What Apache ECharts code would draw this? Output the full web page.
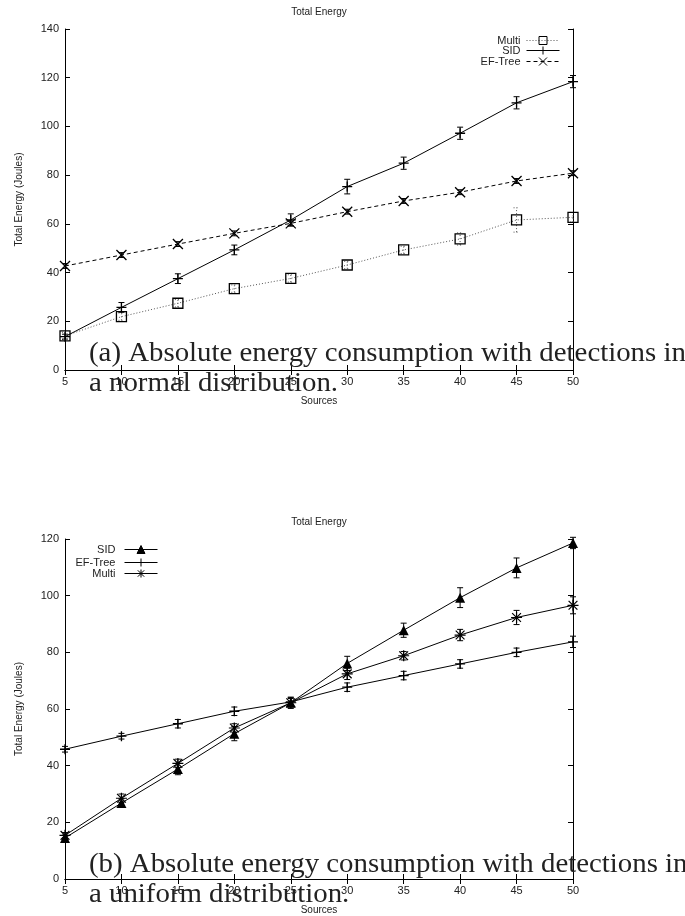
<!DOCTYPE html>
<html>
<head>
<meta charset="utf-8">
<script src="https://cdn.jsdelivr.net/npm/echarts@6/dist/echarts.min.js"></script>
<style>
html,body{margin:0;padding:0;background:#fff;}
#chart{width:685px;height:916px;}
</style>
</head>
<body>
<div id="chart"></div>
<script>
// ---- Data ----
const sources = [5, 10, 15, 20, 25, 30, 35, 40, 45, 50];
const xTicks = [5, 10, 15, 20, 25, 30, 35, 40, 45, 50];

// (a) normal distribution
const aMulti    = [14.0, 21.9, 27.4, 33.4, 37.6, 43.1, 49.3, 53.8, 61.6, 62.7];
const aMultiErr = [1.5, 1.5, 1.5, 1.5, 1.5, 1.5, 1.5, 2.5, 5.0, 2.0];
const aSID      = [13.7, 25.7, 37.5, 49.3, 61.6, 75.3, 84.9, 97.2, 109.7, 118.4];
const aSIDErr   = [1.0, 2.0, 2.0, 2.0, 2.5, 3.0, 2.5, 2.5, 2.5, 2.5];
const aEF       = [42.7, 47.2, 51.7, 56.1, 60.2, 65.0, 69.4, 73.0, 77.6, 80.8];
const aEFErr    = [1.0, 1.0, 1.0, 1.0, 1.0, 1.0, 1.0, 1.0, 1.0, 1.0];

// (b) uniform distribution
const bSID      = [14.5, 26.8, 38.8, 51.3, 62.2, 76.1, 87.8, 99.3, 109.8, 118.6];
const bSIDErr   = [1.0, 1.5, 2.0, 2.5, 2.0, 2.5, 2.5, 3.5, 3.5, 2.0];
const bEF       = [45.8, 50.4, 54.8, 59.2, 62.5, 67.7, 71.8, 75.9, 80.0, 83.7];
const bEFErr    = [1.0, 1.0, 1.5, 1.5, 1.5, 1.5, 1.5, 1.5, 1.5, 2.0];
const bMulti    = [15.4, 28.5, 40.8, 53.3, 62.2, 72.4, 78.8, 86.1, 92.3, 96.6];
const bMultiErr = [1.0, 1.5, 1.5, 1.5, 1.5, 2.0, 1.5, 2.0, 2.5, 3.0];

const titleText = 'Total Energy';
const xName = 'Sources';
const yName = 'Total Energy (Joules)';
const captionA = ['(a) Absolute energy consumption with detections in', 'a normal distribution.'];
const captionB = ['(b) Absolute energy consumption with detections in', 'a uniform distribution.'];

// ---- Helpers ----
const pairs = (vals) => sources.map((x, i) => [x, vals[i]]);
const errData = (vals, errs) => sources.map((x, i) => [x, vals[i] - errs[i], vals[i] + errs[i]]);

const SYM_PLUS = 'path://M5,0L5,10M0,5L10,5';
const SYM_X = 'path://M0,0L10,10M10,0L0,10';
const SYM_SQ = 'path://M0,0L10,0L10,10L0,10Z';
const SYM_AST = 'path://M5,0L5,10M0,5L10,5M1,1L9,9M9,1L1,9';

const sans = 'Liberation Sans, Arial, Helvetica, sans-serif';

function errSeries(name, vals, errs, xi, yi, color, dash) {
  return {
    type: 'custom', name: name, xAxisIndex: xi, yAxisIndex: yi, clip: false, z: 3,
    data: errData(vals, errs),
    silent: true,
    renderItem: function (params, api) {
      const x = api.value(0);
      const lo = api.coord([x, api.value(1)]);
      const hi = api.coord([x, api.value(2)]);
      const w = 3;
      const st = { stroke: color, lineWidth: 1, lineDash: dash || null };
      return {
        type: 'group',
        children: [
          { type: 'line', shape: { x1: lo[0], y1: lo[1], x2: hi[0], y2: hi[1] }, style: st },
          { type: 'line', shape: { x1: lo[0] - w, y1: lo[1], x2: lo[0] + w, y2: lo[1] }, style: st },
          { type: 'line', shape: { x1: hi[0] - w, y1: hi[1], x2: hi[0] + w, y2: hi[1] }, style: st }
        ]
      };
    }
  };
}

function lineSeries(name, vals, xi, yi, opts) {
  return {
    type: 'line', name: name, xAxisIndex: xi, yAxisIndex: yi, clip: false, z: 4,
    data: pairs(vals),
    symbol: opts.symbol, symbolSize: opts.size,
    showAllSymbol: true,
    lineStyle: { color: opts.lineColor, width: 1, type: opts.dash },
    itemStyle: { color: opts.fill, borderColor: '#000', borderWidth: opts.bw },
    emphasis: { disabled: true },
    animation: false
  };
}

function xAxes(gi) {
  const common = {
    gridIndex: gi, type: 'value', min: 5, max: 50, interval: 5,
    axisLine: { show: true, lineStyle: { color: '#000', width: 1 } },
    axisTick: { show: true, inside: true, length: 5, lineStyle: { color: '#000' } },
    splitLine: { show: false }
  };
  return [
    Object.assign({}, common, {
      position: 'bottom',
      axisLabel: { color: '#222', fontSize: 11, fontFamily: sans, margin: 6,
        formatter: (v) => xTicks.includes(v) ? String(v) : '' },
      name: xName, nameLocation: 'middle', nameGap: 26,
      nameTextStyle: { color: '#222', fontSize: 10, fontFamily: sans }
    }),
    Object.assign({}, common, { position: 'top', axisLabel: { show: false } })
  ];
}

function yAxes(gi, max) {
  const common = {
    gridIndex: gi, type: 'value', min: 0, max: max, interval: 20,
    axisLine: { show: true, lineStyle: { color: '#000', width: 1 } },
    axisTick: { show: true, inside: true, length: 5, lineStyle: { color: '#000' } },
    splitLine: { show: false }
  };
  return [
    Object.assign({}, common, {
      position: 'left',
      axisLabel: { color: '#222', fontSize: 11, fontFamily: sans, margin: 6 },
      name: yName, nameLocation: 'middle', nameGap: 41, nameRotate: 90,
      nameTextStyle: { color: '#222', fontSize: 10, fontFamily: sans }
    }),
    Object.assign({}, common, { position: 'right', axisLabel: { show: false } })
  ];
}

function oneLegend(name, right, top) {
  return {
    data: [name], orient: 'vertical', align: 'right', right: right, top: top,
    itemWidth: 33, itemHeight: 10, padding: 0, itemGap: 0,
    selectedMode: false,
    lineStyle: { width: 1 },
    itemStyle: { borderWidth: 1 },
    textStyle: { color: '#222', fontSize: 11, fontFamily: sans, padding: [0, 1, 0, 0] }
  };
}

function caption(lines, y1) {
  const font = '27px "Liberation Serif", "Times New Roman", serif';
  return lines.map((t, i) => ({
    type: 'text', x: 89, y: y1 + i * 30, scaleX: 1.068, z: 100,
    style: { text: t, font: font, fill: '#222', align: 'left', verticalAlign: 'top' }
  }));
}

const chart = echarts.init(document.getElementById('chart'), null, { renderer: 'canvas' });

const option = {
  animation: false,
  backgroundColor: '#fff',
  grid: [
    { left: 65, top: 29, width: 508, height: 341 },
    { left: 65, top: 539, width: 508, height: 342 }
  ],
  xAxis: [].concat(xAxes(0), xAxes(1)),
  yAxis: [].concat(yAxes(0, 140), yAxes(1, 120)),
  legend: [
    oneLegend('Multi', 125, 34),
    oneLegend('SID', 125, 44),
    oneLegend('EF-Tree', 125, 55),
    oneLegend('SID ', 527, 544),
    oneLegend('EF-Tree ', 527, 556),
    oneLegend('Multi ', 527, 567)
  ],
  series: [
    errSeries('aMultiErr', aMulti, aMultiErr, 0, 0, '#555', [1, 2]),
    errSeries('aSIDErr', aSID, aSIDErr, 0, 0, '#000'),
    errSeries('aEFErr', aEF, aEFErr, 0, 0, '#000'),
    lineSeries('Multi', aMulti, 0, 0, { symbol: SYM_SQ, size: 10, lineColor: '#555', dash: [1, 2], fill: 'none', bw: 1.3 }),
    lineSeries('SID', aSID, 0, 0, { symbol: SYM_PLUS, size: 10, lineColor: '#000', dash: 'solid', fill: 'none', bw: 1.3 }),
    lineSeries('EF-Tree', aEF, 0, 0, { symbol: SYM_X, size: 10, lineColor: '#000', dash: [4, 3], fill: 'none', bw: 1.3 }),

    errSeries('bSIDErr', bSID, bSIDErr, 2, 2, '#000'),
    errSeries('bEFErr', bEF, bEFErr, 2, 2, '#000'),
    errSeries('bMultiErr', bMulti, bMultiErr, 2, 2, '#000'),
    lineSeries('SID ', bSID, 2, 2, { symbol: 'triangle', size: 10, lineColor: '#000', dash: 'solid', fill: '#000', bw: 0 }),
    lineSeries('EF-Tree ', bEF, 2, 2, { symbol: SYM_PLUS, size: 10, lineColor: '#000', dash: 'solid', fill: 'none', bw: 1.3 }),
    lineSeries('Multi ', bMulti, 2, 2, { symbol: SYM_AST, size: 11, lineColor: '#000', dash: 'solid', fill: 'none', bw: 1.2 })
  ],
  graphic: [
    { type: 'text', x: 319, y: 12, z: 100,
      style: { text: titleText, font: '10px ' + sans, fill: '#222', align: 'center', verticalAlign: 'middle' } },
    { type: 'text', x: 319, y: 522, z: 100,
      style: { text: titleText, font: '10px ' + sans, fill: '#222', align: 'center', verticalAlign: 'middle' } }
  ].concat(caption(captionA, 340), caption(captionB, 851))
};

chart.setOption(option);
</script>
</body>
</html>
